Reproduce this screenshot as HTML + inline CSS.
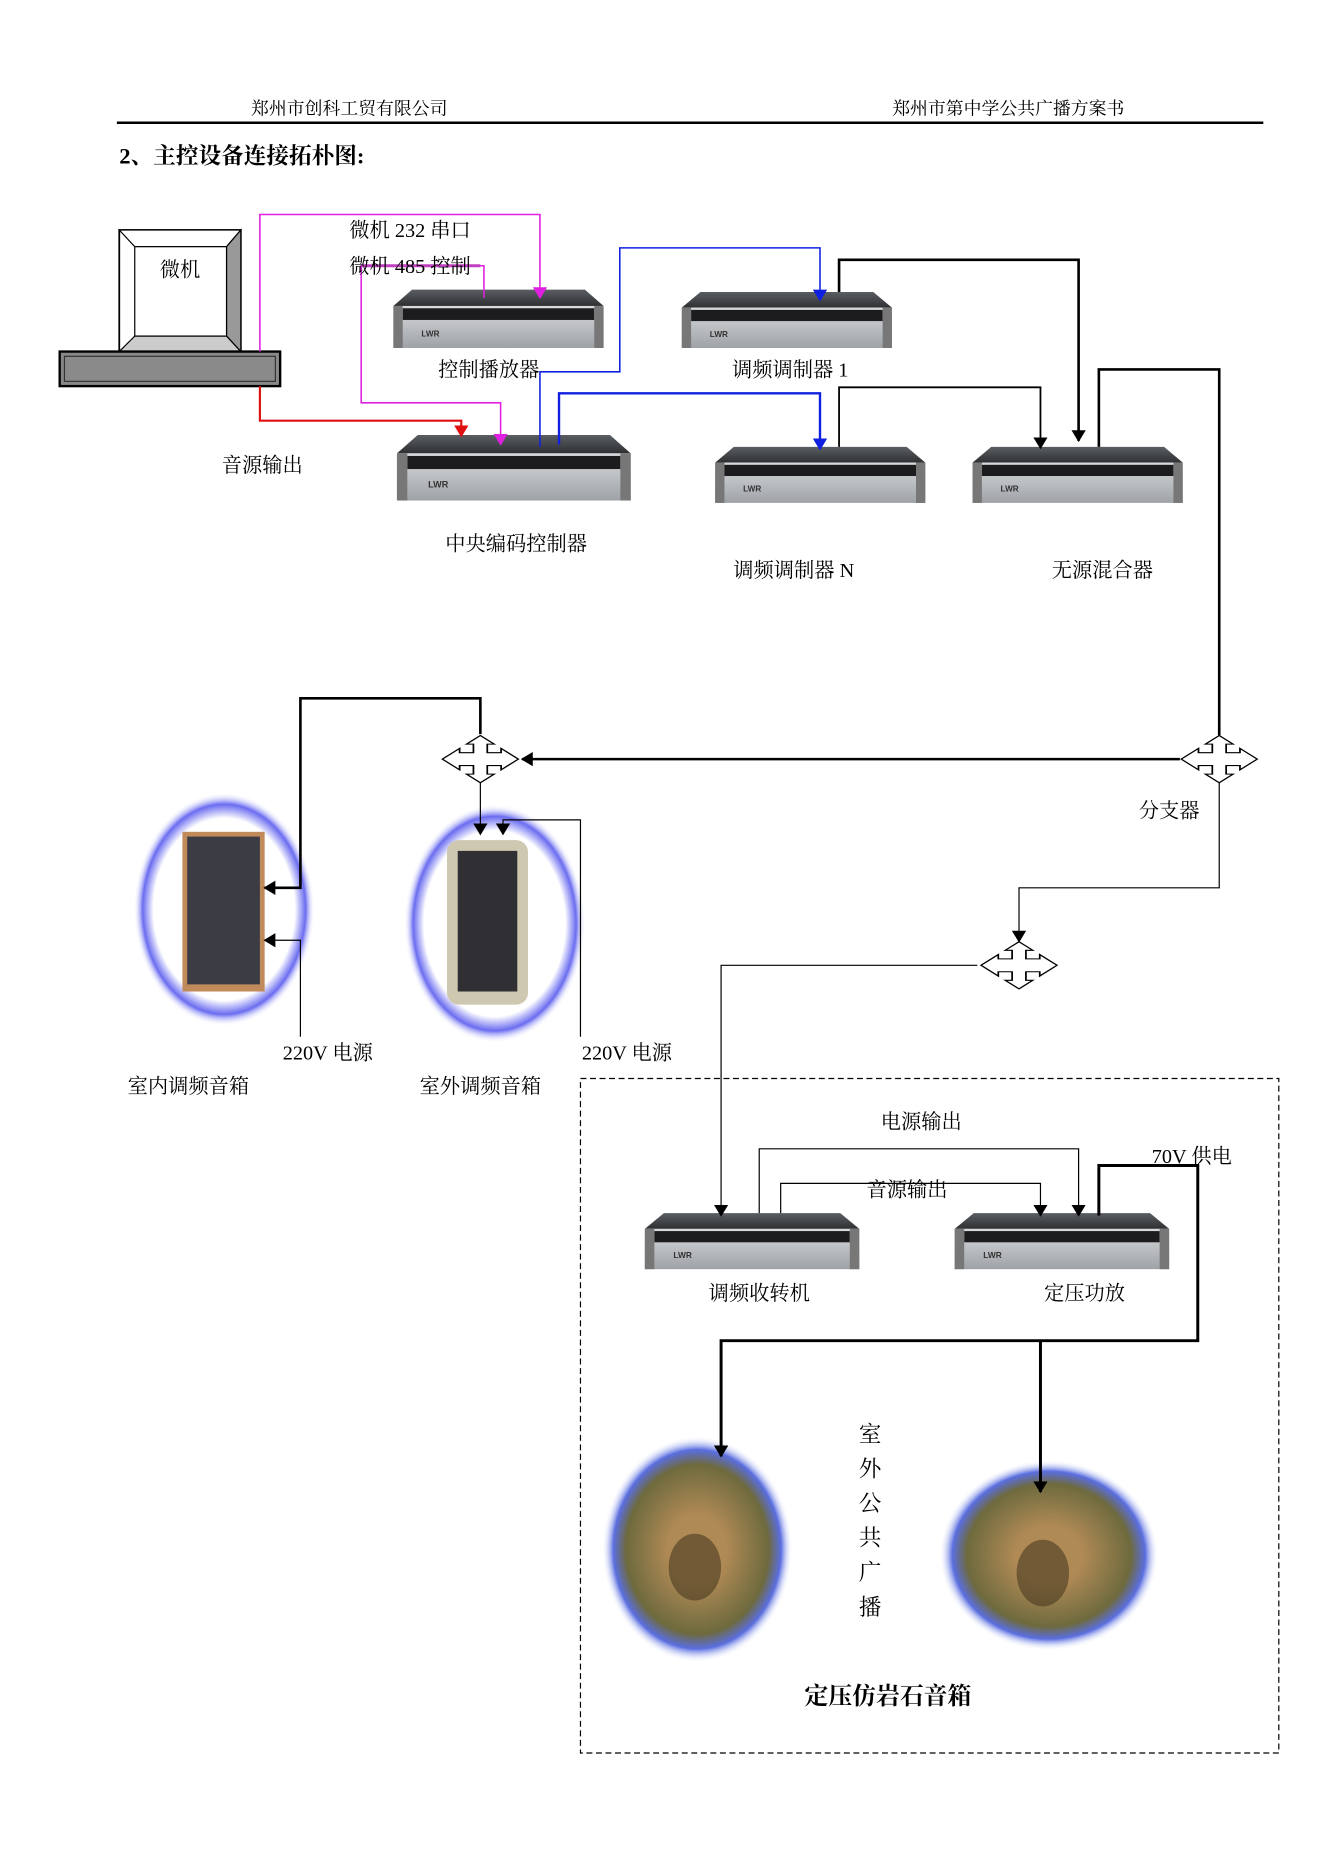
<!DOCTYPE html>
<html><head><meta charset="utf-8"><style>html,body{margin:0;padding:0;background:#fff}svg{display:block}</style></head>
<body>
<svg width="1323" height="1871" viewBox="0 0 1110 1570" xmlns="http://www.w3.org/2000/svg" font-family="'Liberation Serif','Noto Serif CJK SC','Noto Sans CJK SC',serif">
<defs>
<marker id="ak" markerWidth="10" markerHeight="12" refX="9" refY="6" orient="auto" markerUnits="userSpaceOnUse"><path d="M0,0L10,6L0,12z" fill="#000"/></marker>
<marker id="ab" markerWidth="10" markerHeight="12" refX="9" refY="6" orient="auto" markerUnits="userSpaceOnUse"><path d="M0,0L10,6L0,12z" fill="#1020e0"/></marker>
<marker id="am" markerWidth="10" markerHeight="12" refX="9" refY="6" orient="auto" markerUnits="userSpaceOnUse"><path d="M0,0L10,6L0,12z" fill="#e020e0"/></marker>
<marker id="ar" markerWidth="10" markerHeight="12" refX="9" refY="6" orient="auto" markerUnits="userSpaceOnUse"><path d="M0,0L10,6L0,12z" fill="#e01010"/></marker>
<linearGradient id="front" x1="0" y1="0" x2="0" y2="1"><stop offset="0" stop-color="#d8dadd"/><stop offset="1" stop-color="#9ea2a6"/></linearGradient>
<linearGradient id="top" x1="0" y1="0" x2="0" y2="1"><stop offset="0" stop-color="#5a5e62"/><stop offset="1" stop-color="#2e3033"/></linearGradient>
<radialGradient id="glow"><stop offset="0.78" stop-color="#fff"/><stop offset="0.9" stop-color="#6a6cf0"/><stop offset="1" stop-color="#fff" stop-opacity="0"/></radialGradient>
<radialGradient id="rock"><stop offset="0.3" stop-color="#b08a55"/><stop offset="0.75" stop-color="#6e6a3e"/><stop offset="0.88" stop-color="#5a6ee0"/><stop offset="1" stop-color="#fff" stop-opacity="0"/></radialGradient>
<g id="rack">
<path d="M16,0H164L180,14H0Z" fill="url(#top)"/>
<rect x="0" y="14" width="180" height="36" fill="url(#front)"/>
<rect x="8" y="16" width="164" height="10" fill="#1c1c1e"/>
<rect x="0" y="14" width="8" height="36" fill="#777"/><rect x="172" y="14" width="8" height="36" fill="#777"/>
<text x="24" y="40" font-size="7" font-family="'Liberation Sans',sans-serif" font-weight="bold" fill="#333">LWR</text>
</g>
</defs>

<!-- header -->
<g font-size="15" fill="#000">
<text x="293" y="96" text-anchor="middle">郑州市创科工贸有限公司</text>
<text x="846" y="96" text-anchor="middle">郑州市第中学公共广播方案书</text>
</g>
<line x1="98" y1="103" x2="1060" y2="103" stroke="#000" stroke-width="2"/>
<text x="100" y="137" font-size="19" font-weight="bold">2、主控设备连接拓朴图:</text>

<!-- speakers (drawn first so arrows stay on top) -->
<ellipse cx="188" cy="763" rx="76" ry="98" fill="url(#glow)"/>
<rect x="153" y="698" width="69" height="134" fill="#c08a5a"/>
<rect x="157" y="702" width="61" height="124" fill="#3c3c44"/>
<ellipse cx="415" cy="775" rx="76" ry="100" fill="url(#glow)"/>
<rect x="375" y="705" width="68" height="138" rx="10" fill="#cfc8b0"/>
<rect x="384" y="714" width="50" height="118" fill="#303034"/>
<ellipse cx="585" cy="1300" rx="80" ry="95" fill="url(#rock)"/>
<ellipse cx="880" cy="1305" rx="92" ry="80" fill="url(#rock)"/>
<ellipse cx="583" cy="1315" rx="22" ry="28" fill="#4a3a22" opacity="0.6"/>
<ellipse cx="875" cy="1320" rx="22" ry="28" fill="#4a3a22" opacity="0.6"/>

<!-- computer -->
<rect x="100" y="193" width="102" height="102" fill="#fff" stroke="#000" stroke-width="1.5"/>
<path d="M100,193L113,207H190L202,193Z" fill="#fff" stroke="#000"/>
<path d="M190,207L202,193V295L190,282Z" fill="#999" stroke="#000"/>
<path d="M100,295L113,282H190L202,295Z" fill="#ccc" stroke="#000"/>
<rect x="113" y="207" width="77" height="75" fill="#fff" stroke="#000"/>
<text x="151" y="232" font-size="17" text-anchor="middle">微机</text>
<rect x="50" y="295" width="185" height="29" fill="#888" stroke="#000" stroke-width="2"/>
<rect x="54" y="299" width="177" height="21" fill="#8a8a8a" stroke="#333"/>

<!-- devices -->
<use href="#rack" transform="translate(330,243) scale(0.98,0.98)"/>
<use href="#rack" transform="translate(572,245) scale(0.98,0.94)"/>
<use href="#rack" transform="translate(333,365) scale(1.09,1.1)"/>
<use href="#rack" transform="translate(600,375) scale(0.98,0.94)"/>
<use href="#rack" transform="translate(816,375) scale(0.98,0.94)"/>
<use href="#rack" transform="translate(541,1018) scale(1,0.94)"/>
<use href="#rack" transform="translate(801,1018) scale(1,0.94)"/>

<!-- connectors -->
<g fill="none" stroke-width="1.3">
<polyline points="218,295 218,180 453,180 453,250" stroke="#e020e0" marker-end="url(#am)"/>
<polyline points="406,250 406,223 303,223 303,338 420,338 420,373" stroke="#e020e0" marker-end="url(#am)"/>
<line x1="303" y1="223" x2="403" y2="223" stroke="#c040c0" stroke-width="2.5"/>
<polyline points="218,324 218,353 387,353 387,366" stroke="#e01010" stroke-width="1.8" marker-end="url(#ar)"/>
<polyline points="453,375 453,312 520,312 520,208 688,208 688,252" stroke="#1020e0" marker-end="url(#ab)"/>
<polyline points="469,373 469,330 688,330 688,377" stroke="#1020e0" stroke-width="2" marker-end="url(#ab)"/>
</g>
<g fill="none" stroke="#000" stroke-width="2.2">
<polyline points="704,245 704,218 905,218 905,370" marker-end="url(#ak)"/>
<polyline points="704,375 704,325 873,325 873,376" stroke-width="1.5" marker-end="url(#ak)"/>
<polyline points="922,375 922,310 1023,310 1023,617"/>
<line x1="990" y1="637" x2="438" y2="637" marker-end="url(#ak)"/>
<polyline points="403,616 403,586 252,586 252,745 222,745" marker-end="url(#ak)"/>
</g>
<g fill="none" stroke="#000" stroke-width="1">
<polyline points="403,657 403,700" marker-end="url(#ak)"/>
<polyline points="252,870 252,789 222,789" marker-end="url(#ak)"/>
<polyline points="487,870 487,688 422,688 422,700" marker-end="url(#ak)"/>
<polyline points="1023,657 1023,745 855,745 855,790" marker-end="url(#ak)"/>
<polyline points="820,810 605,810 605,1020" marker-end="url(#ak)"/>
<polyline points="637,1018 637,964 905,964 905,1020" marker-end="url(#ak)"/>
<polyline points="655,1018 655,993 873,993 873,1020" marker-end="url(#ak)"/>
</g>
<g fill="none" stroke="#000" stroke-width="2.5">
<polyline points="922,1020 922,978 1005,978 1005,1125 605,1125 605,1222" marker-end="url(#ak)"/>
<polyline points="873,1125 873,1252" marker-end="url(#ak)"/>
</g>

<!-- splitters -->
<g fill="#fff" stroke="#000" stroke-width="1">
<path d="M0,-22L-8,-14H-4V-6H-12V-10L-22,0L-12,10V6H-4V14H-8L0,22L8,14H4V6H12V10L22,0L12,-10V-6H4V-14H8Z" transform="translate(403,637) scale(1.45,0.9)"/>
<path d="M0,-22L-8,-14H-4V-6H-12V-10L-22,0L-12,10V6H-4V14H-8L0,22L8,14H4V6H12V10L22,0L12,-10V-6H4V-14H8Z" transform="translate(1023,637) scale(1.45,0.9)"/>
<path d="M0,-22L-8,-14H-4V-6H-12V-10L-22,0L-12,10V6H-4V14H-8L0,22L8,14H4V6H12V10L22,0L12,-10V-6H4V-14H8Z" transform="translate(855,810) scale(1.45,0.9)"/>
</g>

<!-- dashed box -->
<rect x="487" y="905" width="586" height="566" fill="none" stroke="#000" stroke-width="1" stroke-dasharray="5,3"/>

<!-- labels -->
<g font-size="17" fill="#000" text-anchor="middle">
<text x="344" y="199">微机 232 串口</text>
<text x="344" y="229">微机 485 控制</text>
<text x="410" y="316">控制播放器</text>
<text x="663" y="316">调频调制器 1</text>
<text x="220" y="396">音源输出</text>
<text x="433" y="462">中央编码控制器</text>
<text x="666" y="484">调频调制器 N</text>
<text x="925" y="484">无源混合器</text>
<text x="981" y="686">分支器</text>
<text x="275" y="889">220V 电源</text>
<text x="526" y="889">220V 电源</text>
<text x="158" y="917">室内调频音箱</text>
<text x="403" y="917">室外调频音箱</text>
<text x="773" y="947">电源输出</text>
<text x="761" y="1004">音源输出</text>
<text x="1000" y="976">70V 供电</text>
<text x="637" y="1091">调频收转机</text>
<text x="910" y="1091">定压功放</text>
<text x="730" y="1210" font-size="19">室</text>
<text x="730" y="1239" font-size="19">外</text>
<text x="730" y="1268" font-size="19">公</text>
<text x="730" y="1297" font-size="19">共</text>
<text x="730" y="1326" font-size="19">广</text>
<text x="730" y="1355" font-size="19">播</text>
<text x="745" y="1430" font-size="20" font-weight="bold">定压仿岩石音箱</text>
</g>
</svg>
</body></html>
